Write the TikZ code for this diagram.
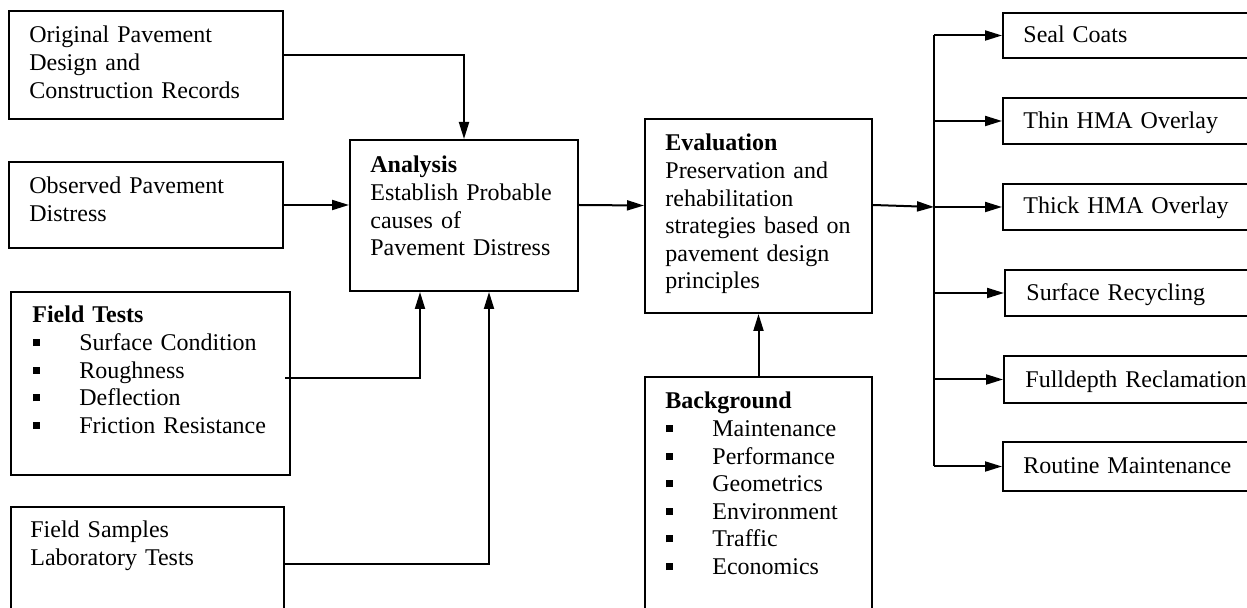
\documentclass[tikz,border=0pt]{standalone}
\usepackage{fontspec}
\setmainfont{Liberation Serif}
\usetikzlibrary{arrows.meta,calc}
\newlength\pxu
\setlength\pxu{0.5pt}
\newcommand\sqb{\makebox[23.5pt][l]{\hspace{0.5pt}\raisebox{2.25pt}{\rule{3.5pt}{3.5pt}}}}
\tikzset{
  blk/.style={draw, line width=1pt, anchor=north west, inner sep=0pt},
  txt/.style={anchor=base west, inner sep=0pt, align=left, text width=320*\pxu,
    font=\fontsize{12pt}{13.8pt}\selectfont},
  arr/.style={line width=1pt, -{Triangle[length=8.5pt,width=5pt]}}
}
\begin{document}
\begin{tikzpicture}[x=0.5pt,y=-0.5pt]
   \useasboundingbox (0,0) rectangle (1247,608);
   \clip (0,0) rectangle (1247,608);

   \node[blk, minimum width=274*\pxu, minimum height=108*\pxu] (orig) at (8,10) {};
   \node[blk, minimum width=274*\pxu, minimum height=86*\pxu] (obs) at (8,161) {};
   \node[blk, minimum width=279*\pxu, minimum height=183*\pxu] (ftests) at (10,291) {};
   \node[blk, minimum width=273*\pxu, minimum height=134*\pxu] (fsamp) at (10,506) {};
   \node[blk, minimum width=228*\pxu, minimum height=151*\pxu] (anal) at (349,139) {};
   \node[blk, minimum width=227*\pxu, minimum height=194*\pxu] (eval) at (644,118) {};
   \node[blk, minimum width=227*\pxu, minimum height=250*\pxu] (bg) at (644,376) {};
   \node[blk, minimum width=280*\pxu, minimum height=45*\pxu] (seal) at (1002,12) {};
   \node[blk, minimum width=280*\pxu, minimum height=46*\pxu] (thin) at (1002,97) {};
   \node[blk, minimum width=280*\pxu, minimum height=46*\pxu] (thick) at (1002,183) {};
   \node[blk, minimum width=280*\pxu, minimum height=46*\pxu] (surf) at (1004,269) {};
   \node[blk, minimum width=280*\pxu, minimum height=47*\pxu] (full) at (1003,355) {};
   \node[blk, minimum width=280*\pxu, minimum height=49*\pxu] (routine) at (1002,441) {};

   \node[txt] (origtx) at (29,43) {Original Pavement\\Design and\\Construction Records};
   \node[txt] (obstx) at (29,194) {Observed Pavement\\Distress};
   \node[txt] (ftesttx) at (32,323) {\textbf{Field Tests}\\\sqb Surface Condition\\\sqb Roughness\\\sqb Deflection\\\sqb Friction Resistance};
   \node[txt] (fsamptx) at (30,538) {Field Samples\\Laboratory Tests};
   \node[txt] (analtx) at (370,173) {\textbf{Analysis}\\Establish Probable\\causes of\\Pavement Distress};
   \node[txt] (evaltx) at (665,151) {\textbf{Evaluation}\\Preservation and\\rehabilitation\\strategies based on\\pavement design\\principles};
   \node[txt] (bgtx) at (665,409) {\textbf{Background}\\\sqb Maintenance\\\sqb Performance\\\sqb Geometrics\\\sqb Environment\\\sqb Traffic\\\sqb Economics};
   \node[txt] (sealtx) at (1023,43) {Seal Coats};
   \node[txt] (thintx) at (1023,129) {Thin HMA Overlay};
   \node[txt] (thicktx) at (1023,214) {Thick HMA Overlay};
   \node[txt] (surftx) at (1026,301) {Surface Recycling};
   \node[txt] (fulltx) at (1025,388) {Fulldepth Reclamation};
   \node[txt] (routinetx) at (1023,474) {Routine Maintenance};

   \draw[arr] ([yshift=10*\pxu]orig.east) -| (anal.north);
   \draw[arr] (obs.east) -- (obs.east -| anal.west);
   \draw[arr] ([xshift=-6*\pxu,yshift=5.5*\pxu]ftests.east) -| ([xshift=-44*\pxu]anal.south);
   \draw[arr] ([yshift=10*\pxu]fsamp.east) -| ([xshift=25*\pxu]anal.south);
   \draw[arr] ([yshift=10.5*\pxu]anal.east) -- ([yshift=10.5*\pxu]eval.west);
   \draw[arr] (bg.north) -- (eval.south);

   \coordinate (bus) at (934,0);
   \draw[line width=1pt] (bus |- seal.west) -- (bus |- routine.west);
   \draw[arr] ([yshift=11*\pxu]eval.east) -- (bus |- thick.west);
   \foreach \b in {seal,thin,thick,surf,full,routine}
      \draw[arr] (bus |- \b.west) -- (\b.west);
\end{tikzpicture}
\end{document}
